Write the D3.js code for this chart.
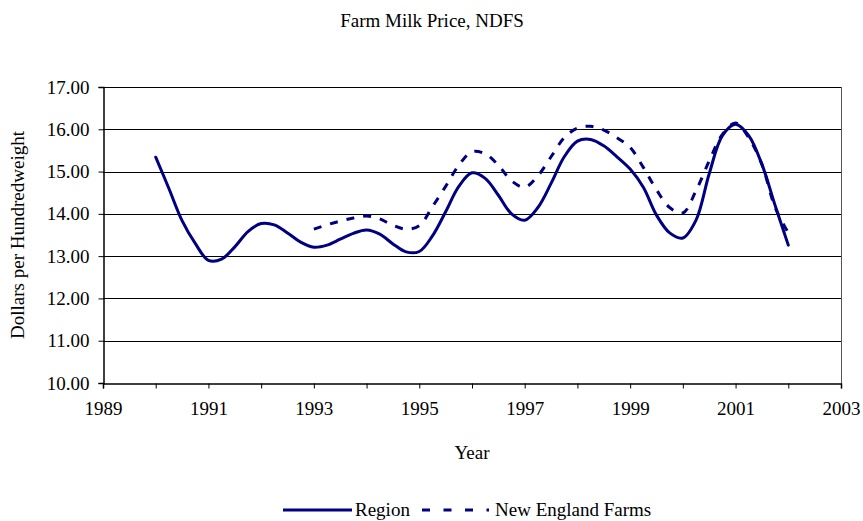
<!DOCTYPE html>
<html>
<head>
<meta charset="utf-8">
<script src="https://cdn.jsdelivr.net/npm/d3@7"></script>
<style>
  html, body { margin: 0; padding: 0; background: #fff; }
  svg { display: block; }
</style>
</head>
<body>
<svg id="chart" width="863" height="521"></svg>
<script>
// ---- data ----
const title = "Farm Milk Price, NDFS";
const xTitle = "Year";
const yTitle = "Dollars per Hundredweight";
const seriesNames = ["Region", "New England Farms"];

const regionYears = [1990, 1990.25, 1990.5, 1990.75, 1991, 1991.25, 1991.5, 1991.75,
  1992, 1992.25, 1992.5, 1992.75, 1993, 1993.25, 1993.5, 1993.75,
  1994, 1994.25, 1994.5, 1994.75, 1995, 1995.25, 1995.5, 1995.75,
  1996, 1996.25, 1996.5, 1996.75, 1997, 1997.25, 1997.5, 1997.75,
  1998, 1998.25, 1998.5, 1998.75, 1999, 1999.25, 1999.5, 1999.75,
  2000, 2000.25, 2000.5, 2000.75, 2001, 2001.25, 2001.5, 2001.75, 2002];
const regionValues = [15.34, 14.60, 13.84, 13.30, 12.90, 12.93, 13.22, 13.58,
  13.77, 13.74, 13.55, 13.33, 13.21, 13.26, 13.40, 13.54,
  13.62, 13.52, 13.29, 13.10, 13.11, 13.48, 14.05, 14.65,
  14.97, 14.84, 14.44, 14.00, 13.85, 14.15, 14.72, 15.35,
  15.72, 15.76, 15.61, 15.35, 15.06, 14.63, 13.97, 13.55,
  13.43, 13.85, 14.95, 15.85, 16.12, 15.85, 15.17, 14.20, 13.26];

const neYears = [1993, 1993.25, 1993.5, 1993.75,
  1994, 1994.25, 1994.5, 1994.75, 1995, 1995.25, 1995.5, 1995.75,
  1996, 1996.25, 1996.5, 1996.75, 1997, 1997.25, 1997.5, 1997.75,
  1998, 1998.25, 1998.5, 1998.75, 1999, 1999.25, 1999.5, 1999.75,
  2000, 2000.25, 2000.5, 2000.75, 2001, 2001.25, 2001.5, 2001.75, 2002];
const neValues = [13.64, 13.74, 13.83, 13.90,
  13.95, 13.88, 13.73, 13.64, 13.72, 14.17, 14.65, 15.15,
  15.47, 15.42, 15.15, 14.78, 14.63, 14.90, 15.35, 15.80,
  16.03, 16.07, 15.98, 15.80, 15.57, 15.10, 14.57, 14.15,
  14.02, 14.55, 15.25, 15.88, 16.15, 15.80, 15.17, 14.15, 13.55];

const xTickValues = [1989, 1990, 1991, 1992, 1993, 1994, 1995, 1996, 1997, 1998, 1999, 2000, 2001, 2002, 2003];
const xLabelValues = [1989, 1991, 1993, 1995, 1997, 1999, 2001, 2003];
const yTickValues = [10, 11, 12, 13, 14, 15, 16, 17];

// ---- layout ----
const FONT = '"Liberation Serif", "Times New Roman", Times, "DejaVu Serif", serif';
const FS = "19px";
const svg = d3.select("#chart");
const m = { left: 103, right: 841, top: 87, bottom: 383 };
const color = "#000080";

const x = d3.scaleLinear().domain([1989, 2003]).range([m.left, m.right]);
const y = d3.scaleLinear().domain([10, 17]).range([m.bottom, m.top]);

function styleText(sel) {
  sel.attr("font-family", FONT).style("font-family", FONT).style("font-size", FS).attr("fill", "#000");
  return sel;
}

// gridlines
svg.append("g").selectAll("line").data(yTickValues.filter(v => v > 10 && v < 17)).join("line")
  .attr("x1", m.left).attr("x2", m.right)
  .attr("y1", d => Math.round(y(d)) + 0.5).attr("y2", d => Math.round(y(d)) + 0.5)
  .attr("stroke", "#000").attr("stroke-width", 1);

// plot border
svg.append("line").attr("x1", m.left).attr("x2", m.right).attr("y1", m.top + 0.5).attr("y2", m.top + 0.5)
  .attr("stroke", "#000");
svg.append("line").attr("x1", m.right + 0.5).attr("x2", m.right + 0.5).attr("y1", m.top).attr("y2", m.bottom)
  .attr("stroke", "#555");

// y axis
const yAxis = d3.axisLeft(y).tickValues(yTickValues).tickSize(5).tickPadding(9)
  .tickFormat(d3.format(".2f"));
const gy = svg.append("g").attr("transform", `translate(${m.left + 0.5},0)`).call(yAxis);
gy.attr("font-family", FONT);
gy.select(".domain").attr("stroke", "#000").attr("stroke-width", 1.5);
gy.selectAll(".tick line").attr("stroke", "#000");
styleText(gy.selectAll(".tick text"));

// x axis
const xAxis = d3.axisBottom(x).tickValues(xTickValues).tickSize(5).tickPadding(13)
  .tickFormat(d => xLabelValues.includes(d) ? String(d) : "");
const gx = svg.append("g").attr("transform", `translate(0,${m.bottom + 0.5})`).call(xAxis);
gx.attr("font-family", FONT);
gx.select(".domain").attr("stroke", "#000").attr("stroke-width", 1.5);
gx.selectAll(".tick line").attr("stroke", "#000");
styleText(gx.selectAll(".tick text"));

// lines
const line = d3.line().x(d => x(d[0])).y(d => y(d[1])).curve(d3.curveCatmullRom.alpha(0.5));
const regionData = regionYears.map((t, i) => [t, regionValues[i]]);
const neData = neYears.map((t, i) => [t, neValues[i]]);

svg.append("path").datum(neData).attr("d", line)
  .attr("fill", "none").attr("stroke", color).attr("stroke-width", 3)
  .attr("stroke-dasharray", "8,9");
svg.append("path").datum(regionData).attr("d", line)
  .attr("fill", "none").attr("stroke", color).attr("stroke-width", 3)
  .attr("stroke-linejoin", "round").attr("stroke-linecap", "round");

// titles
styleText(svg.append("text").attr("x", 432).attr("y", 27).attr("text-anchor", "middle").text(title));
styleText(svg.append("text").attr("x", (m.left + m.right) / 2).attr("y", 459).attr("text-anchor", "middle").text(xTitle));
styleText(svg.append("text").attr("transform", `translate(24,${(m.top + m.bottom) / 2}) rotate(-90)`)
  .attr("text-anchor", "middle").text(yTitle));

// legend
const lg = svg.append("g");
const ly = 510;
lg.append("line").attr("x1", 283).attr("x2", 352).attr("y1", ly).attr("y2", ly)
  .attr("stroke", color).attr("stroke-width", 3);
styleText(lg.append("text").attr("x", 355).attr("y", ly + 6).text(seriesNames[0]));
lg.append("line").attr("x1", 422).attr("x2", 489).attr("y1", ly).attr("y2", ly)
  .attr("stroke", color).attr("stroke-width", 3).attr("stroke-dasharray", "8,13.5");
styleText(lg.append("text").attr("x", 495).attr("y", ly + 6).text(seriesNames[1]));
</script>
</body>
</html>
